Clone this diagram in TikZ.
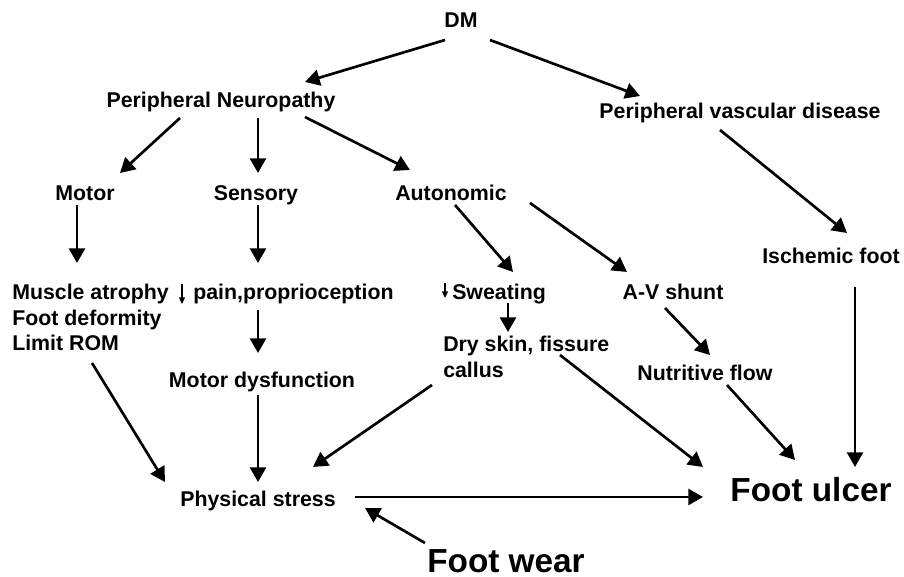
\documentclass[tikz,border=0pt]{standalone}
\usepackage{fontspec}
\setmainfont{Liberation Sans}
\usetikzlibrary{arrows.meta}
\tikzset{
  lbl/.style={inner sep=0pt, font=\bfseries\fontsize{16}{19}\selectfont},
  big/.style={inner sep=0pt, font=\bfseries\fontsize{25}{30}\selectfont},
  arr/.style={line width=2pt, -{Triangle[length=11pt,width=12pt]}},
  tinyarr/.style={line width=0.9pt, -{Triangle[length=5pt,width=4.5pt]}},
}
\begin{document}
\begin{tikzpicture}[x=0.75pt,y=-0.75pt]
\useasboundingbox[fill=white] (0,0) rectangle (904,577);
% nodes
\node[lbl, anchor=base] (DM) at (461,28) {DM};
\node[lbl, anchor=base] (PN) at (221,108) {Peripheral Neuropathy};
\node[lbl, anchor=base] (PVD) at (740,119) {Peripheral vascular disease};
\node[lbl, anchor=base] (Motor) at (85,201) {Motor};
\node[lbl, anchor=base] (Sens) at (256,201) {Sensory};
\node[lbl, anchor=base] (Auto) at (451,201) {Autonomic};
\node[lbl, anchor=base] (Isch) at (831,264) {Ischemic foot};
\node[lbl, anchor=base west] (Musc1) at (12,300) {Muscle atrophy};
\node[lbl, anchor=base west] (Musc2) at (12,326) {Foot deformity};
\node[lbl, anchor=base west] (Musc3) at (12,351) {Limit ROM};
\node[lbl, anchor=base west] (Pain) at (193,300) {pain,proprioception};
\node[lbl, anchor=base west] (Sweat) at (452,300) {Sweating};
\node[lbl, anchor=base] (AV) at (673,300) {A-V shunt};
\node[lbl, anchor=base west] (Dry1) at (443,352) {Dry skin, fissure};
\node[lbl, anchor=base west] (Dry2) at (443,378) {callus};
\node[lbl, anchor=base] (Nutr) at (705,381) {Nutritive flow};
\node[lbl, anchor=base] (MotD) at (262,388) {Motor dysfunction};
\node[lbl, anchor=base] (PS) at (258,506) {Physical stress};
\node[big, anchor=base] (FU) at (811,502) {Foot ulcer};
\node[big, anchor=base] (FW) at (506,572) {Foot wear};
% small down arrows
\draw[tinyarr] ([shift={(-11,-16)}]Pain.base west) -- ([shift={(-11,4)}]Pain.base west);
\draw[tinyarr] ([shift={(-7,-17)}]Sweat.base west) -- ([shift={(-7,-2)}]Sweat.base west);
% connectors
\draw[arr] ([shift={(-16,12)}]DM.base) -- ([shift={(84,-26)}]PN.base);
\draw[arr] ([shift={(29,12)}]DM.base) -- ([shift={(-100,-23)}]PVD.base);
\draw[arr] ([shift={(-41,10)}]PN.base) -- ([shift={(35,-28)}]Motor.base);
\draw[arr] ([shift={(37,10)}]PN.base) -- ([shift={(2,-28)}]Sens.base);
\draw[arr] ([shift={(84,9)}]PN.base) -- ([shift={(-41,-31)}]Auto.base);
\draw[arr] ([shift={(-20,11)}]PVD.base) -- ([shift={(16,-31)}]Isch.base);
\draw[arr] ([shift={(-8,4)}]Motor.base) -- ([shift={(65,-37)}]Musc1.base west);
\draw[arr] ([shift={(2,4)}]Sens.base) -- ([shift={(65,-37)}]Pain.base west);
\draw[arr] ([shift={(4,4)}]Auto.base) -- ([shift={(61,-28)}]Sweat.base west);
\draw[arr] ([shift={(79,2)}]Auto.base) -- ([shift={(-46,-28)}]AV.base);
\draw[arr] ([shift={(24,23)}]Isch.base) -- ([shift={(44,-35)}]FU.base);
\draw[arr] ([shift={(65,10)}]Pain.base west) -- ([shift={(-4,-35)}]MotD.base);
\draw[arr] ([shift={(56,3)}]Sweat.base west) -- ([shift={(65,-20)}]Dry1.base west);
\draw[arr] ([shift={(-8,8)}]AV.base) -- ([shift={(5,-26)}]Nutr.base);
\draw[arr] ([shift={(80,12)}]Musc3.base west) -- ([shift={(-93,-24)}]PS.base);
\draw[arr] ([shift={(-4,7)}]MotD.base) -- ([shift={(0,-24)}]PS.base);
\draw[arr] ([shift={(-11,7)}]Dry2.base west) -- ([shift={(55,-39)}]PS.base);
\draw[arr] ([shift={(117,3)}]Dry1.base west) -- ([shift={(-108,-35)}]FU.base);
\draw[arr] ([shift={(22,4)}]Nutr.base) -- ([shift={(-16,-42)}]FU.base);
\draw[arr] ([shift={(97,-9)}]PS.base) -- ([shift={(-108,-5)}]FU.base);
\draw[arr] ([shift={(-81,-29)}]FW.base) -- ([shift={(107,2)}]PS.base);
\end{tikzpicture}
\end{document}
